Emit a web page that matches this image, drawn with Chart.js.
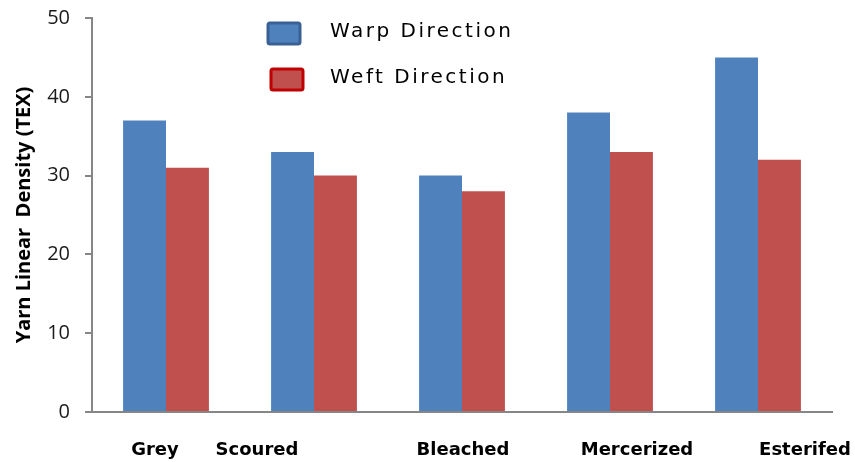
<!DOCTYPE html>
<html>
<head>
<meta charset="utf-8">
<script src="https://cdn.jsdelivr.net/npm/chart.js@4.4.1/dist/chart.umd.min.js"></script>
<style>
  html, body { margin: 0; padding: 0; background: #fff; }
  #wrap { width: 855px; height: 462px; }
</style>
</head>
<body>
<div id="wrap"><canvas id="yarnChart" width="855" height="462"></canvas></div>
<script>
// Datos del gráfico
const categories = ['Grey', 'Scoured', 'Bleached', 'Mercerized', 'Esterifed'];
const warpValues = [37, 33, 30, 38, 45];
const weftValues = [31, 30, 28, 33, 32];
const yTicks = [0, 10, 20, 30, 40, 50];

// Desplazamiento de las etiquetas del eje X (como en la imagen original)
const labelShift = [-11, -57, 1, 27, 47];

// Etiquetas del eje X dibujadas a mano (desalineadas como en el original)
const xLabelPlugin = {
    id: 'xLabelPlugin',
    afterDraw(chart) {
        const ctx = chart.ctx;
        const xScale = chart.scales.x;
        ctx.save();
        ctx.font = 'bold 18px "DejaVu Sans"';
        ctx.fillStyle = '#000';
        ctx.textAlign = 'center';
        ctx.textBaseline = 'middle';
        categories.forEach((cat, i) => {
            const x = xScale.getPixelForValue(i) + labelShift[i];
            ctx.fillText(cat, x, 450);
        });
        ctx.restore();
    }
};

// Leyenda vertical dentro del área del gráfico
const legendPlugin = {
    id: 'legendPlugin',
    afterDraw(chart) {
        const ctx = chart.ctx;
        const items = [
            { ds: chart.data.datasets[0], border: '#3A6095', x: 268, y: 23 },
            { ds: chart.data.datasets[1], border: '#C00000', x: 271, y: 69 }
        ];
        ctx.save();
        items.forEach(it => {
            ctx.fillStyle = it.ds.backgroundColor;
            ctx.strokeStyle = it.border;
            ctx.lineWidth = 3;
            ctx.beginPath();
            ctx.roundRect(it.x, it.y, 32, 21, 2);
            ctx.fill();
            ctx.stroke();
            ctx.font = '20px "DejaVu Sans"';
            ctx.letterSpacing = '2.5px';
            ctx.fillStyle = '#000';
            ctx.textAlign = 'left';
            ctx.textBaseline = 'middle';
            ctx.fillText(it.ds.label, 330, it.y + 9);
        });
        ctx.restore();
    }
};

new Chart(document.getElementById('yarnChart'), {
    type: 'bar',
    data: {
        labels: categories,
        datasets: [{
            label: 'Warp Direction',
            data: warpValues,
            backgroundColor: '#4F81BD',
            categoryPercentage: 0.58,
            barPercentage: 1.0
        }, {
            label: 'Weft Direction',
            data: weftValues,
            backgroundColor: '#C0504D',
            categoryPercentage: 0.58,
            barPercentage: 1.0
        }]
    },
    options: {
        responsive: false,
        animation: false,
        layout: { padding: { left: 0, top: 18, right: 23, bottom: 50 } },
        plugins: {
            legend: { display: false },
            tooltip: { enabled: false }
        },
        scales: {
            x: {
                ticks: { display: false },
                grid: { display: false },
                border: { color: '#868686', width: 2 },
                afterFit: s => { s.height = 0; }
            },
            y: {
                min: 0,
                max: 50,
                afterBuildTicks: s => { s.ticks = yTicks.map(v => ({ value: v })); },
                afterFit: s => { s.width = 92; s.paddingTop = 0; s.paddingBottom = 0; },
                ticks: {
                    font: { family: '"Open Sans"', size: 20 },
                    color: '#1a1a1a',
                    padding: 15
                },
                grid: { drawOnChartArea: false, tickLength: 7, color: '#868686', lineWidth: 2 },
                border: { color: '#868686', width: 2 },
                title: {
                    display: true,
                    text: 'Yarn Linear  Density (TEX)',
                    font: { family: '"Open Sans"', size: 20, weight: 'bold' },
                    color: '#000',
                    padding: { top: 12, bottom: 0 }
                }
            }
        }
    },
    plugins: [xLabelPlugin, legendPlugin]
});
</script>
</body>
</html>
